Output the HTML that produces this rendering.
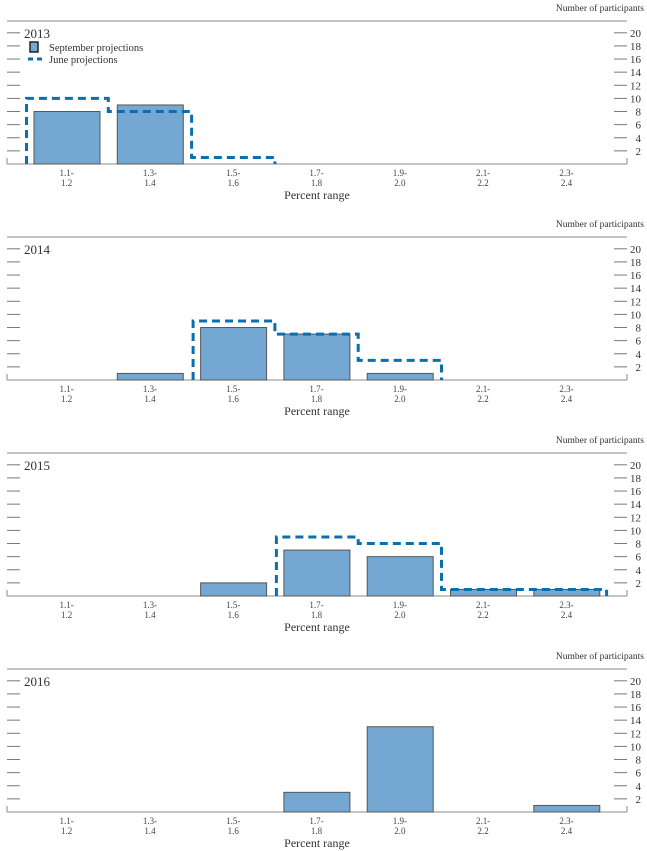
<!DOCTYPE html>
<html><head><meta charset="utf-8"><style>
body{margin:0;background:#fff;}
svg{display:block;font-family:"Liberation Serif",serif;}
</style></head><body>
<svg id="c" width="647" height="851" viewBox="0 0 647 851"></svg>
<script>
const categories=[["1.1-","1.2"],["1.3-","1.4"],["1.5-","1.6"],["1.7-","1.8"],["1.9-","2.0"],["2.1-","2.2"],["2.3-","2.4"]];
const years=["2013","2014","2015","2016"];
const sep2013=[8,9,0,0,0,0,0];
const jun2013=[10,8,1,0,0,0,0];
const sep2014=[0,1,8,7,1,0,0];
const jun2014=[0,0,9,7,3,0,0];
const sep2015=[0,0,2,7,6,1,1];
const jun2015=[0,0,0,9,8,1,1];
const sep2016=[0,0,0,3,13,0,1];
const jun2016=[0,0,0,0,0,0,0];
const yTicks=[2,4,6,8,10,12,14,16,18,20];
const sepAll=[sep2013,sep2014,sep2015,sep2016];
const junAll=[jun2013,jun2014,jun2015,jun2016];

const svg=document.getElementById('c');
const NS="http://www.w3.org/2000/svg";
function mk(tag,attrs,parent){const e=document.createElementNS(NS,tag);for(const k in attrs)e.setAttribute(k,attrs[k]);(parent||svg).appendChild(e);return e;}
const L=7,R=627,bandL=25,bandW=83.3,barOff=9,barW=66,unit=6.56,BLUE="#0b6fae";
function xBand(i){return bandL+i*bandW;}

years.forEach((yr,p)=>{
  const top=21+p*216, base=164+p*216;
  const y=v=>base-v*unit;
  const g=mk('g',{});
  
  
  let t=mk('text',{x:644,y:top-10,'font-size':9.5,'text-anchor':'end',fill:'#333'},g);t.textContent="Number of participants";
  
  let l=mk('line',{x1:L,y1:top,x2:R,y2:top,stroke:'#888','stroke-width':1},g);
  
  l=mk('line',{x1:L,y1:base,x2:R,y2:base,stroke:'#888','stroke-width':1},g);
  
  mk('line',{x1:L,y1:base-6,x2:L,y2:base,stroke:'#888'},g);
  mk('line',{x1:R,y1:base-6,x2:R,y2:base,stroke:'#888'},g);
  yTicks.forEach(v=>{
    const yy=y(v);
    const a=mk('line',{x1:L,y1:yy,x2:L+13,y2:yy,stroke:'#777'},g);
    
    const b=mk('line',{x1:R-13,y1:yy,x2:R,y2:yy,stroke:'#777'},g);
    
    const tx=mk('text',{x:641,y:yy+4,'font-size':11,'text-anchor':'end',fill:'#333'},g);tx.textContent=v;
    
  });
  t=mk('text',{x:24,y:top+17,'font-size':13,fill:'#333'},g);t.textContent=yr;
  
  categories.forEach((c,i)=>{
    const cx=xBand(i)+bandW/2;
    const a=mk('text',{x:cx,y:base+12,'font-size':9,'text-anchor':'middle',fill:'#444'},g);a.textContent=c[0];
    
    const b=mk('text',{x:cx,y:base+22,'font-size':9,'text-anchor':'middle',fill:'#444'},g);b.textContent=c[1];
    
  });
  t=mk('text',{x:317,y:base+35,'font-size':12,'text-anchor':'middle',fill:'#333'},g);t.textContent="Percent range";
  
  sepAll[p].forEach((v,i)=>{
    if(v<=0)return;
    const r=mk('rect',{x:xBand(i)+barOff,y:y(v),width:barW,height:v*unit,fill:'#74a8d2',stroke:'#555','stroke-width':1},g);
    
  });
  const jd=junAll[p];let d="";let i=0;
  while(i<jd.length){
    if(jd[i]>0){
      let s=xBand(i)+1.5;d+="M"+s+","+base+" V"+y(jd[i]);
      while(i<jd.length&&jd[i]>0){d+=" H"+(xBand(i+1))+(i+1<jd.length&&jd[i+1]>0?" V"+y(jd[i+1]):"");i++;}
      const last=xBand(i)-(i>=jd.length?1.5:0);d=d.replace(/H([\d.]+)$/,"H"+last)+" V"+base+" ";
    }else i++;
  }
  if(d){const pth=mk('path',{d:d,fill:'none',stroke:BLUE,'stroke-width':3,'stroke-dasharray':'8,5'},g);
    }
  if(p===0){
    const lg=mk('g',{},g);
    mk('rect',{x:30,y:42,width:8,height:10,fill:'#74a8d2',stroke:'#222','stroke-width':1.5},lg);
    let a=mk('text',{x:49,y:51,'font-size':10.5,fill:'#333'},lg);a.textContent="September projections";
    
    mk('line',{x1:28,y1:59,x2:43,y2:59,stroke:BLUE,'stroke-width':3,'stroke-dasharray':'5,4'},lg);
    a=mk('text',{x:49,y:63,'font-size':10.5,fill:'#333'},lg);a.textContent="June projections";
    
  }
});
</script>
</body></html>
